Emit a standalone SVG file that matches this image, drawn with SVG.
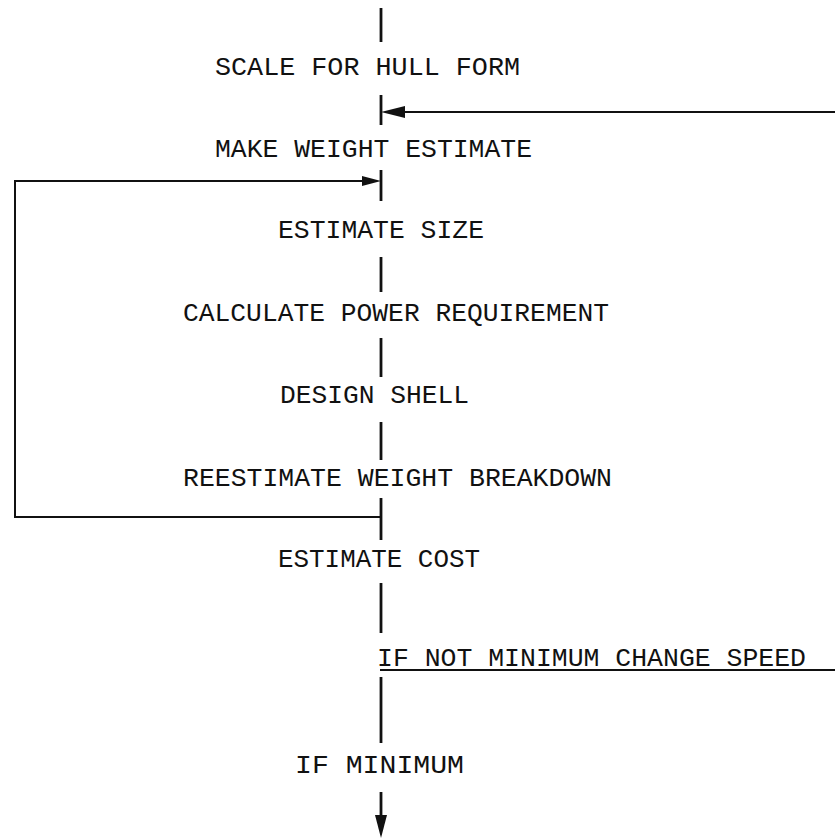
<svg xmlns="http://www.w3.org/2000/svg" width="835" height="839" viewBox="0 0 835 839">
<style>
text{font-family:"Liberation Mono","DejaVu Sans Mono",monospace;font-size:26px;fill:#111;}
.v{stroke:#111;stroke-width:2.8;fill:none;}
.h{stroke:#111;stroke-width:2;fill:none;}
.ah{fill:#111;}
</style>
<rect width="835" height="839" fill="#fff"/>
<g id="connectors">
<line class="v" x1="381" y1="8" x2="381" y2="42"/>
<line class="v" x1="381" y1="95" x2="381" y2="125"/>
<line class="h" x1="835" y1="112" x2="400" y2="112"/>
<polygon class="ah" points="381,112 405,106 405,118"/>
<line class="v" x1="381" y1="170" x2="381" y2="201"/>
<polyline class="h" points="364,181 15,181 15,517 381,517"/>
<polygon class="ah" points="381,181 362,176 362,186"/>
<line class="v" x1="381" y1="257" x2="381" y2="292"/>
<line class="v" x1="381" y1="338" x2="381" y2="377"/>
<line class="v" x1="381" y1="422" x2="381" y2="460"/>
<line class="v" x1="381" y1="498" x2="381" y2="540"/>
<line class="v" x1="381" y1="583" x2="381" y2="633"/>
<line class="h" x1="380" y1="670" x2="835" y2="670"/>
<line class="v" x1="381" y1="677" x2="381" y2="743"/>
<line class="v" x1="381" y1="792" x2="381" y2="818"/>
<polygon class="ah" points="381,838 375,815 387,815"/>
</g>
<g id="n1"><text x="215" y="75" textLength="305" lengthAdjust="spacingAndGlyphs">SCALE FOR HULL FORM</text></g>
<g id="n2"><text x="215" y="157" textLength="317" lengthAdjust="spacingAndGlyphs">MAKE WEIGHT ESTIMATE</text></g>
<g id="n3"><text x="278" y="238" textLength="206" lengthAdjust="spacingAndGlyphs">ESTIMATE SIZE</text></g>
<g id="n4"><text x="183" y="321" textLength="426" lengthAdjust="spacingAndGlyphs">CALCULATE POWER REQUIREMENT</text></g>
<g id="n5"><text x="280" y="403" textLength="189" lengthAdjust="spacingAndGlyphs">DESIGN SHELL</text></g>
<g id="n6"><text x="183" y="486" textLength="429" lengthAdjust="spacingAndGlyphs">REESTIMATE WEIGHT BREAKDOWN</text></g>
<g id="n7"><text x="278" y="567" textLength="202" lengthAdjust="spacingAndGlyphs">ESTIMATE COST</text></g>
<g id="n8"><text x="377" y="666" textLength="429" lengthAdjust="spacingAndGlyphs">IF NOT MINIMUM CHANGE SPEED</text></g>
<g id="n9"><text x="295" y="773" textLength="169" lengthAdjust="spacingAndGlyphs">IF MINIMUM</text></g>
</svg>
